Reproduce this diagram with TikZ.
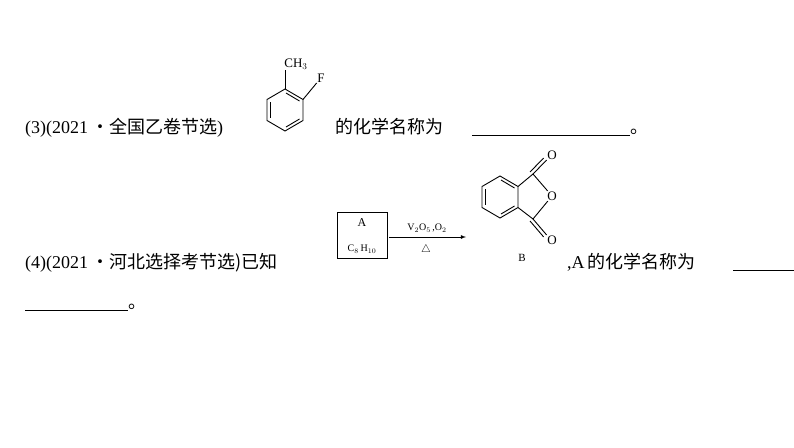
\documentclass[tikz,border=0pt]{standalone}
\usepackage{fontspec}
\setmainfont{Liberation Serif}
\newfontfamily\cjk{Noto Sans CJK SC}
\usetikzlibrary{positioning, calc}

\begin{document}
\begin{tikzpicture}[x=1pt, y=-1pt,
    txt/.style={anchor=base west, inner sep=0pt, font=\fontsize{18}{20}\selectfont},
    atom/.style={inner sep=0.5pt, font=\fontsize{13}{14}\selectfont},
    small/.style={inner sep=0pt, font=\fontsize{10}{11}\selectfont},
    bond/.style={line width=0.9pt},
    arrow/.style={line width=0.8pt,-latex}
]
    \useasboundingbox (0,0) rectangle (794,447);

    % Question 3
    \node[txt] (q3) at (25,133) {(3)(2021\,{\cjk ·全国乙卷节选})};
    \node[txt] (name3) at (335,133) {\cjk 的化学名称为};
    \coordinate (blank3a) at (472,135);
    \coordinate (blank3b) at (630,135);
    \draw[line width=0.7pt] (blank3a) -- (blank3b);
    \node[txt] (dot3) at (630,133) {\cjk 。};

    % Toluene ring
    \coordinate (t1) at (285,89);  \coordinate (t2) at (303,99.5);
    \coordinate (t3) at (303,120.5); \coordinate (t4) at (285,131);
    \coordinate (t5) at (267,120.5); \coordinate (t6) at (267,99.5);
    \draw[bond] (t1) -- (t2) -- (t3) -- (t4) -- (t5) -- (t6) -- cycle;
    \draw[bond] (270.5,102) -- (270.5,118);
    \draw[bond] (286,93) -- (299.5,101);
    \draw[bond] (299.5,119) -- (286,127);
    \node[atom] (ch3) at (296,64) {CH$_3$};
    \node[atom] (fl) at (321,78) {F};
    \draw[bond] (t1) -- (285,70);
    \draw[bond] (t2) -- (fl.south west);

    % Question 4
    \node[txt] (q4) at (25,268) {(4)(2021\,{\cjk ·河北选择考节选)已知}};
    \node[draw, line width=0.6pt, minimum width=50pt, minimum height=46pt] (boxA) at (362,235) {};
    \node[small, font=\fontsize{12}{13}\selectfont] (la) at (362,223) {A};
    \node[small] (lc) at (362,249) {C$_8$\,H$_{10}$};
    \coordinate (arrEnd) at (466,237);
    \coordinate (arrStart) at (389,237);
    \draw[arrow] (arrStart) -- (arrEnd);
    \node[small] (cond) at (427,228) {V$_2$O$_5$\,,O$_2$};
    \node[small, font=\fontsize{11}{12}\selectfont] (heat) at (426,250) {$\triangle$};

    % Phthalic anhydride
    \coordinate (p1) at (500,176); \coordinate (p2) at (518,186.5);
    \coordinate (p3) at (518,207.5); \coordinate (p4) at (500,218);
    \coordinate (p5) at (482,207.5); \coordinate (p6) at (482,186.5);
    \draw[bond] (p1) -- (p2) -- (p3) -- (p4) -- (p5) -- (p6) -- cycle;
    \draw[bond] (485.5,189) -- (485.5,205);
    \draw[bond] (501,180) -- (514.5,188);
    \draw[bond] (514.5,206) -- (501,214);
    \coordinate (c1) at (533,174);
    \coordinate (c2) at (533,219);
    \node[atom] (otop) at (552,155) {O};
    \node[atom] (oring) at (552,196) {O};
    \node[atom] (obot) at (552,240) {O};
    \draw[bond] (p2) -- (c1) -- (oring) -- (c2) -- (p3);
    \draw[bond] (c1) -- (otop.south west);
    \draw[bond] ($(c1)+(-3,-2)$) -- ($(otop.south west)+(-3,-2)$);
    \draw[bond] (c2) -- (obot.north west);
    \draw[bond] ($(c2)+(-3,2)$) -- ($(obot.north west)+(-3,2)$);
    \node[small, font=\fontsize{11}{12}\selectfont] (lb) at (522,258) {B};

    \node[txt] (name4) at (567,268) {,A\,{\cjk 的化学名称为}};
    \coordinate (blank4a) at (733,270);
    \coordinate (blank4b) at (794,270);
    \draw[line width=0.7pt] (blank4a) -- (blank4b);
    \coordinate (blank5a) at (25,310);
    \coordinate (blank5b) at (128,310);
    \draw[line width=0.7pt] (blank5a) -- (blank5b);
    \node[txt] (dot5) at (128,308) {\cjk 。};
\end{tikzpicture}
\end{document}
